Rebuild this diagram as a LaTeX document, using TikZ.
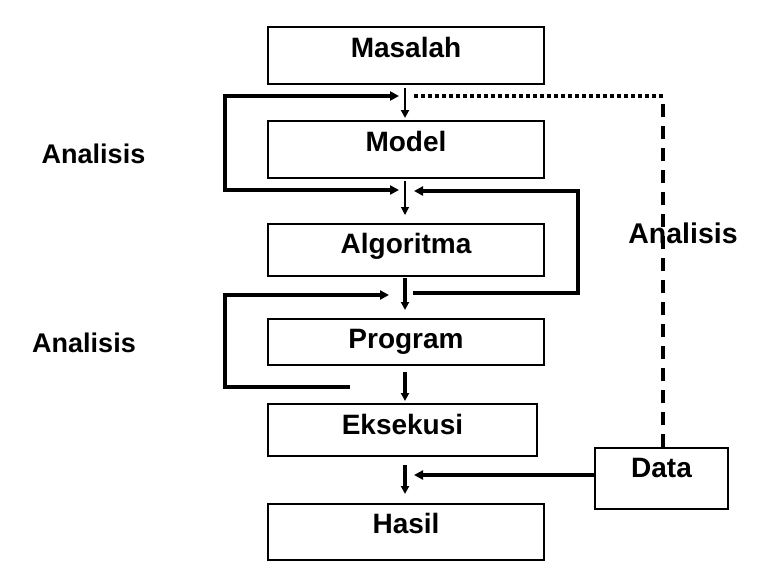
\documentclass[tikz,border=0pt]{standalone}
\usepackage{fontspec}
\setmainfont{Liberation Sans}
\usetikzlibrary{arrows.meta}
\begin{document}
\begin{tikzpicture}[x=1pt,y=-1pt,
  box/.style={draw, line width=1.8pt, inner sep=0pt, minimum width=276pt,
    font=\fontsize{28}{28}\selectfont\bfseries},
  lbl/.style={inner sep=0pt, anchor=base, font=\fontsize{27}{27}\selectfont\bfseries},
  tip/.style={-{Triangle[length=8pt,width=8pt]}},
  flow/.style={tip, line width=3.2pt},
  loop/.style={line width=4pt, line join=miter}]
\useasboundingbox (0,0) rectangle (768,568);
\fill[white] (0,0) rectangle (768,568);
% boxes
\node[box, text height=30pt, text depth=27pt] (masalah) at (406,55.5) {Masalah};
\node[box, text height=30pt, text depth=27pt] (model) at (406,149.5) {Model};
\node[box, text height=29pt, text depth=23pt] (algo) at (406,250) {Algoritma};
\node[box, text height=29pt, text depth=17pt] (prog) at (406,342) {Program};
\node[box, minimum width=269pt, text height=30pt, text depth=22pt] (eks) at (402.5,430) {Eksekusi};
\node[box, text height=29pt, text depth=27pt] (hasil) at (406,532) {Hasil};
\node[box, minimum width=133pt, text height=29pt, text depth=32pt] (data) at (661.5,478.5) {Data};
% labels
\node[lbl] (an1) at (93.5,163) {Analisis};
\node[lbl] (an2) at (84,352) {Analisis};
\node[lbl, font=\fontsize{28.5}{28.5}\selectfont\bfseries] (an3) at (683,243) {Analisis};
% coordinates
\coordinate (a1s) at (405,88);  \coordinate (a1e) at (405,118);
\coordinate (a2s) at (405,181); \coordinate (a2e) at (405,215);
\coordinate (a3s) at (405,278); \coordinate (a3e) at (405,310);
\coordinate (a4s) at (405,372); \coordinate (a4e) at (405,401);
\coordinate (a5s) at (405,465); \coordinate (a5e) at (405,494);
\coordinate (l1a) at (399,96);  \coordinate (l1b) at (399,190);
\coordinate (r1a) at (414,191); \coordinate (r1b) at (413,293);
\coordinate (l2a) at (389,295); \coordinate (l2b) at (350,387);
\coordinate (dtip) at (414,475);
\coordinate (dcorner) at (663,96); \coordinate (dend) at (414,96);
% flow arrows
\draw[flow, line width=2.8pt] (a1s) -- (a1e);
\draw[tip, line width=1.1pt] (a2s) -- (a2e);
\draw[flow] (a3s) -- (a3e);
\draw[flow] (a4s) -- (a4e);
\draw[flow] (a5s) -- (a5e);
% loops
\draw[loop, {Triangle[length=9pt,width=9pt]}-{Triangle[length=9pt,width=9pt]}]
  (l1a) -- (225,96) -- (225,190) -- (l1b);
\draw[loop, {Triangle[length=9pt,width=9pt]}-]
  (r1a) -- (578,191) -- (578,293) -- (r1b);
\draw[loop, -{Triangle[length=9pt,width=9pt]}]
  (l2b) -- (225,387) -- (225,295) -- (l2a);
% data arrow
\draw[flow, -{Triangle[length=9pt,width=9pt]}, line width=3.4pt] (data.west |- dtip) -- (dtip);
% dashed / dotted feedback
\draw[line width=4pt, dash pattern=on 13pt off 9pt] (data.north -| dcorner) -- (dcorner);
\draw[line width=4pt, dash pattern=on 4pt off 3pt] (dcorner) -- (dend);
\end{tikzpicture}
\end{document}
